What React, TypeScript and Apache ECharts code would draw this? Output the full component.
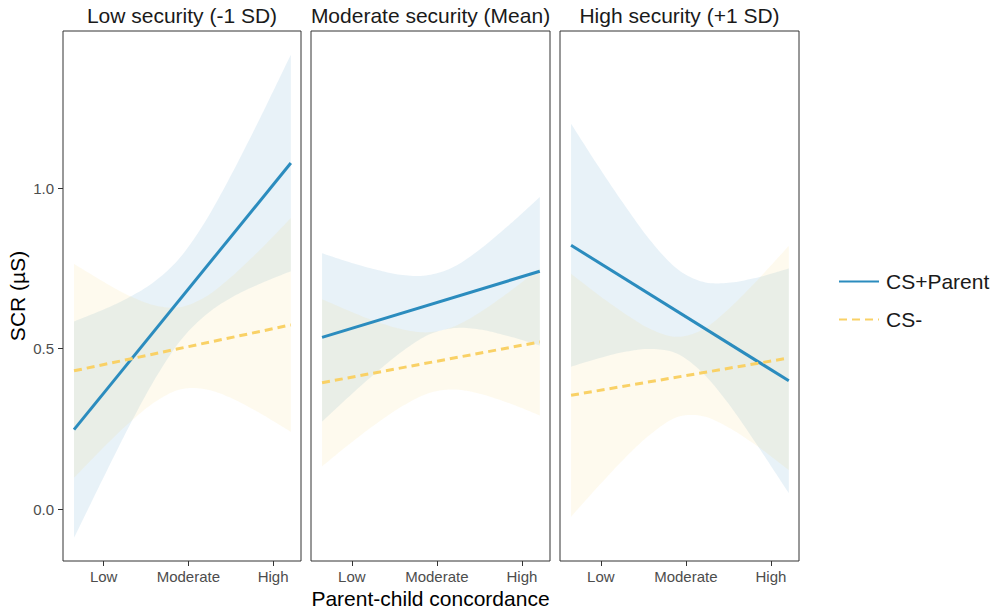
import React, { useEffect, useRef } from "react";
import * as echarts from "echarts";

const panelTitles = ["Low security (-1 SD)", "Moderate security (Mean)", "High security (+1 SD)"];
const xTickValues = [-1, 0, 1];
const xTickLabels = ["Low", "Moderate", "High"];
const yTickValues = [0, 0.5, 1.0];
const seriesNames = ["CS+Parent", "CS-"];

// x positions (SD units of concordance) at which the ribbons were read
const bandX = [-1.35, -1.0, -0.7, -0.4, -0.1, 0.2, 0.5, 0.8, 1.0, 1.21];
const lineX = [-1.35, 1.21];

// fitted lines: value at left end and right end, per panel
const parentStart = [0.248, 0.535, 0.822];
const parentEnd = [1.078, 0.741, 0.4];
const minusStart = [0.431, 0.394, 0.355];
const minusEnd = [0.574, 0.521, 0.471];

// confidence ribbons
const parentLo1 = [-0.089, 0.1, 0.258, 0.403, 0.523, 0.604, 0.658, 0.697, 0.719, 0.741];
const parentHi1 = [0.585, 0.622, 0.66, 0.709, 0.783, 0.896, 1.038, 1.193, 1.301, 1.415];
const minusLo1 = [0.098, 0.193, 0.269, 0.333, 0.373, 0.374, 0.347, 0.306, 0.275, 0.241];
const minusHi1 = [0.764, 0.708, 0.665, 0.635, 0.629, 0.661, 0.722, 0.796, 0.849, 0.907];

const parentLo2 = [0.273, 0.359, 0.429, 0.493, 0.543, 0.564, 0.56, 0.542, 0.527, 0.51];
const parentHi2 = [0.797, 0.767, 0.745, 0.729, 0.729, 0.755, 0.808, 0.874, 0.921, 0.972];
const minusLo2 = [0.134, 0.209, 0.269, 0.322, 0.361, 0.373, 0.36, 0.335, 0.315, 0.292];
const minusHi2 = [0.654, 0.614, 0.583, 0.56, 0.551, 0.569, 0.612, 0.667, 0.707, 0.75];

const parentLo3 = [0.444, 0.472, 0.491, 0.499, 0.484, 0.424, 0.329, 0.215, 0.135, 0.05];
const parentHi3 = [1.2, 1.056, 0.939, 0.831, 0.748, 0.708, 0.705, 0.719, 0.733, 0.75];
const minusLo3 = [-0.023, 0.08, 0.164, 0.237, 0.287, 0.29, 0.255, 0.204, 0.165, 0.122];
const minusHi3 = [0.733, 0.662, 0.606, 0.559, 0.537, 0.56, 0.623, 0.702, 0.759, 0.82];

const FONT = "'Liberation Sans', Arial, Helvetica, sans-serif";
const BLUE = "#2B8CBE";
const YELLOW = "#F9D166";
const BLUE_BAND = "rgba(43,140,190,0.11)";
const YELLOW_BAND = "rgba(249,209,102,0.11)";

const gridBoxes = [
  { left: 63, width: 238 },
  { left: 311, width: 239 },
  { left: 560, width: 239 },
];

// Catmull-Rom smoothing of already projected pixel points (rendering only)
function smoothPts(p: number[][], steps = 10): number[][] {
  const out: number[][] = [];
  for (let i = 0; i < p.length - 1; i++) {
    const p0 = p[Math.max(0, i - 1)];
    const p1 = p[i];
    const p2 = p[i + 1];
    const p3 = p[Math.min(p.length - 1, i + 2)];
    for (let s = 0; s < steps; s++) {
      const t = s / steps;
      const t2 = t * t;
      const t3 = t2 * t;
      const f = (a: number, b: number, c: number, d: number) =>
        0.5 * (2 * b + (-a + c) * t + (2 * a - 5 * b + 4 * c - d) * t2 + (-a + 3 * b - 3 * c + d) * t3);
      out.push([f(p0[0], p1[0], p2[0], p3[0]), f(p0[1], p1[1], p2[1], p3[1])]);
    }
  }
  out.push(p[p.length - 1]);
  return out;
}

export default function App() {
  const ref = useRef<HTMLDivElement>(null);

  useEffect(() => {
    if (!ref.current) return;
    const chart = echarts.init(ref.current, undefined, { renderer: "svg" });

    const panels = [
      { pLo: parentLo1, pHi: parentHi1, mLo: minusLo1, mHi: minusHi1 },
      { pLo: parentLo2, pHi: parentHi2, mLo: minusLo2, mHi: minusHi2 },
      { pLo: parentLo3, pHi: parentHi3, mLo: minusLo3, mHi: minusHi3 },
    ];

    const grid = gridBoxes.map((g) => ({
      left: g.left,
      width: g.width,
      top: 31,
      height: 530,
      show: true,
      borderColor: "#333333",
      borderWidth: 1,
      backgroundColor: "transparent",
      containLabel: false,
    }));

    const xAxis = gridBoxes.map((_, i) => ({
      type: "value",
      gridIndex: i,
      min: -1.48,
      max: 1.33,
      axisLine: { show: false, onZero: false },
      splitLine: { show: false },
      axisTick: {
        show: true,
        customValues: xTickValues,
        length: 5,
        lineStyle: { color: "#333333", width: 1 },
      },
      axisLabel: {
        show: true,
        customValues: xTickValues,
        formatter: (v: number) => xTickLabels[xTickValues.indexOf(Math.round(v))] ?? "",
        color: "#4d4d4d",
        fontSize: 15,
        fontFamily: FONT,
        margin: 8,
      },
    }));

    const yAxis = gridBoxes.map((_, i) => ({
      type: "value",
      gridIndex: i,
      min: -0.161,
      max: 1.489,
      axisLine: { show: false, onZero: false },
      splitLine: { show: false },
      axisTick: {
        show: i === 0,
        customValues: yTickValues,
        length: 5,
        lineStyle: { color: "#333333", width: 1 },
      },
      axisLabel: {
        show: i === 0,
        customValues: yTickValues,
        formatter: (v: number) => v.toFixed(1),
        color: "#4d4d4d",
        fontSize: 15,
        fontFamily: FONT,
        margin: 9,
      },
    }));

    const series: any[] = [];
    panels.forEach((p, i) => {
      const bands = [
        { name: "CS+Parent band", lo: p.pLo, hi: p.pHi, color: BLUE_BAND },
        { name: "CS- band", lo: p.mLo, hi: p.mHi, color: YELLOW_BAND },
      ];
      bands.forEach((b) => {
        series.push({
          type: "custom",
          name: b.name,
          xAxisIndex: i,
          yAxisIndex: i,
          silent: true,
          z: 1,
          data: bandX.map((x, k) => [x, b.lo[k], b.hi[k]]),
          encode: { x: 0, y: [1, 2] },
          renderItem: (params: any, api: any) => {
            if (params.dataIndex !== 0) return { type: "group", children: [] };
            const upper = bandX.map((x, k) => api.coord([x, b.hi[k]]));
            const lower = bandX.map((x, k) => api.coord([x, b.lo[k]]));
            const pts = smoothPts(upper).concat(smoothPts(lower).reverse());
            return {
              type: "polygon",
              shape: { points: pts },
              style: { fill: b.color, stroke: "none" },
            };
          },
        });
      });
      series.push({
        type: "line",
        name: seriesNames[0],
        xAxisIndex: i,
        yAxisIndex: i,
        data: lineX.map((x, k) => [x, k === 0 ? parentStart[i] : parentEnd[i]]),
        symbol: "none",
        lineStyle: { color: BLUE, width: 3, type: "solid" },
        itemStyle: { color: BLUE },
        z: 3,
      });
      series.push({
        type: "line",
        name: seriesNames[1],
        xAxisIndex: i,
        yAxisIndex: i,
        data: lineX.map((x, k) => [x, k === 0 ? minusStart[i] : minusEnd[i]]),
        symbol: "none",
        lineStyle: { color: YELLOW, width: 3, type: [8, 5], cap: "butt" },
        itemStyle: { color: YELLOW },
        z: 3,
      });
    });

    const graphic: any[] = panelTitles.map((t, i) => ({
      type: "text",
      x: gridBoxes[i].left + gridBoxes[i].width / 2,
      y: 15,
      style: {
        text: t,
        fontSize: 21,
        fontFamily: FONT,
        fill: "#1a1a1a",
        align: "center",
        verticalAlign: "middle",
        textAlign: "center",
        textVerticalAlign: "middle",
      },
    }));
    graphic.push({
      type: "text",
      x: 17,
      y: 296,
      rotation: Math.PI / 2,
      style: {
        text: "SCR (µS)",
        fontSize: 21,
        fontFamily: FONT,
        fill: "#000000",
        align: "center",
        verticalAlign: "middle",
        textAlign: "center",
        textVerticalAlign: "middle",
      },
    });
    graphic.push({
      type: "text",
      x: 430.5,
      y: 598,
      style: {
        text: "Parent-child concordance",
        fontSize: 21,
        fontFamily: FONT,
        fill: "#000000",
        align: "center",
        verticalAlign: "middle",
        textAlign: "center",
        textVerticalAlign: "middle",
      },
    });

    chart.setOption({
      animation: false,
      backgroundColor: "#ffffff",
      grid,
      xAxis,
      yAxis,
      series,
      graphic,
      legend: {
        orient: "vertical",
        left: 833,
        top: 266,
        itemWidth: 40,
        itemHeight: 14,
        itemGap: 17,
        selectedMode: false,
        itemStyle: { opacity: 0 },
        data: seriesNames.map((n) => ({ name: n })),
        textStyle: {
          fontSize: 21,
          fontFamily: FONT,
          color: "#1a1a1a",
          padding: [0, 0, 0, 2],
        },
      },
    });

    return () => chart.dispose();
  }, []);

  return (
    <div
      ref={ref}
      style={{ position: "fixed", left: 0, top: 0, width: 1001, height: 610 }}
    />
  );
}
